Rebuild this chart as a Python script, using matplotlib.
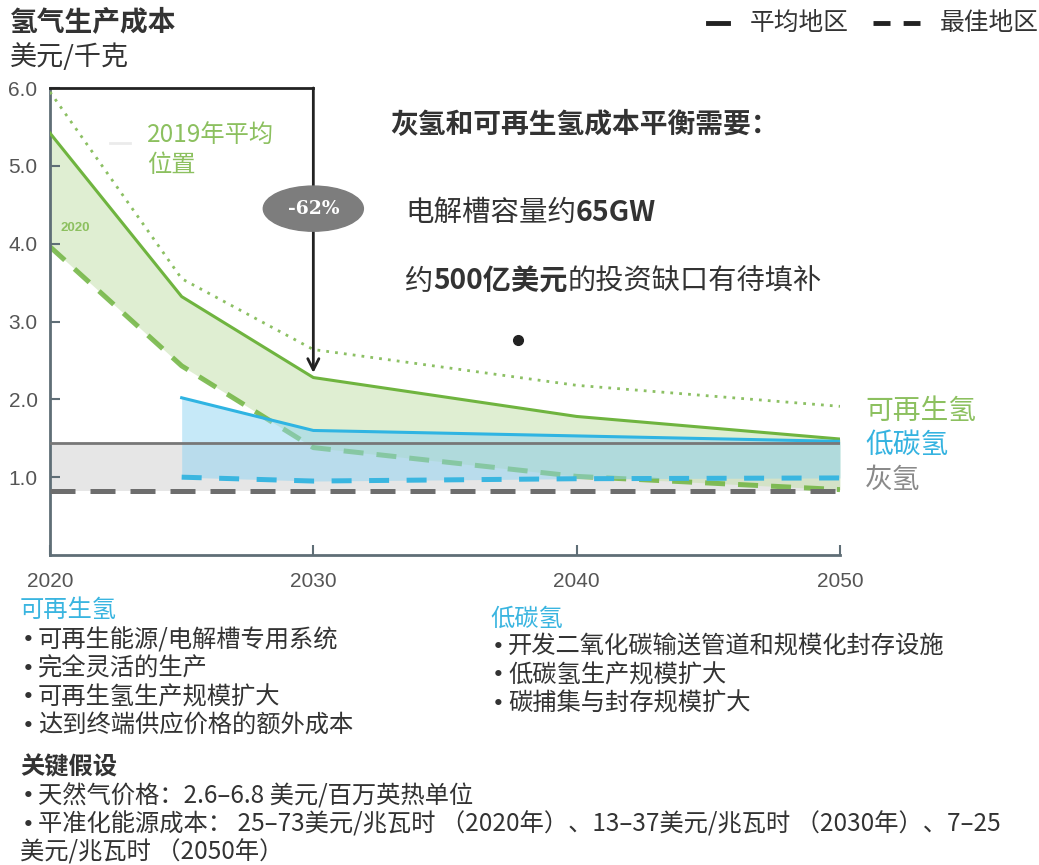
import matplotlib
matplotlib.use('Agg')
import matplotlib.pyplot as plt
from matplotlib.patches import Ellipse
from matplotlib.lines import Line2D

plt.rcParams['font.family'] = ['Noto Sans CJK SC', 'DejaVu Sans']

# cost curves, USD per kg
years = [2020, 2025, 2030, 2040, 2050]
avg_2019 = [5.95, 3.55, 2.64, 2.18, 1.91]
renew_avg = [5.42, 3.32, 2.28, 1.78, 1.49]
renew_best = [3.96, 2.43, 1.38, 1.01, 0.84]

lowc_years = [2025, 2030, 2040, 2050]
lowc_avg = [2.02, 1.60, 1.53, 1.46]
lowc_best = [1.00, 0.95, 0.98, 0.99]

grey_years = [2020, 2050]
grey_avg = [1.44, 1.44]
grey_best = [0.82, 0.82]

x_ticks = [2020, 2030, 2040, 2050]
y_ticks = [1, 2, 3, 4, 5, 6]

W, H = 1039, 865
GREEN = '#6fb43f'
GREEN_TXT = '#8cc05f'
BLUE = '#2fb4e2'
TXT = '#333333'
SPINE = '#5f6e76'
NOTE_SIZE = 17.5


def fx(px):
    return px / W


def fy(py):
    return 1 - py / H


fig = plt.figure(figsize=(W / 100, H / 100), dpi=100)
ax = fig.add_axes([fx(50), fy(555), fx(840) - fx(50), fy(88) - fy(555)])

# shaded ranges
ax.fill_between(grey_years, grey_best, grey_avg, color='#d6d6d6', alpha=0.6, lw=0, zorder=1)
ax.fill_between(years, renew_best, renew_avg, color='#c6e0ae', alpha=0.55, lw=0, zorder=1.5)
ax.plot(years, renew_best, color=GREEN, lw=3.6, ls=(0, (4, 2.6)), alpha=0.85, zorder=2)
ax.fill_between(lowc_years, lowc_best, lowc_avg, color='#8ed4f2', alpha=0.5, lw=0, zorder=3)

# lines
ax.plot(years, avg_2019, color='#8cc063', lw=2, ls=(0, (1, 2.2)), zorder=4)
ax.plot(years, renew_avg, color=GREEN, lw=2.2, zorder=4)
ax.plot(lowc_years, lowc_avg, color=BLUE, lw=2.2, zorder=4)
ax.plot(lowc_years, lowc_best, color='#3ab6e0', lw=3.6, ls=(0, (4, 3.5)), zorder=4)
ax.plot(grey_years, grey_avg, color='#777777', lw=2, zorder=4)
ax.plot(grey_years, grey_best, color='#6d6d6d', lw=3.6, ls=(0, (5, 3)), zorder=4)

ax.set_xlim(2020, 2050)
ax.set_ylim(0, 6)
ax.set_xticks(x_ticks)
ax.set_yticks(y_ticks)
ax.set_yticklabels([f'{v:.1f}' for v in y_ticks])
ax.tick_params(direction='in', length=7, width=1.5, color=SPINE,
               labelsize=15, labelcolor='#555555')
ax.tick_params(axis='x', pad=12)
ax.tick_params(axis='y', pad=9)
for lab in ax.get_xticklabels() + ax.get_yticklabels():
    lab.set_family('Liberation Sans')
for s in ['top', 'right']:
    ax.spines[s].set_visible(False)
for s in ['left', 'bottom']:
    ax.spines[s].set_color(SPINE)
    ax.spines[s].set_linewidth(2)

# -62% bracket and arrow
ax.plot([2020, 2030], [6, 6], color='#222222', lw=2, clip_on=False, zorder=5)
ax.annotate('', xy=(2030, 2.34), xytext=(2030, 6.0),
            arrowprops=dict(arrowstyle='->', color='#222222', lw=2, mutation_scale=20,
                            shrinkA=0, shrinkB=0), zorder=5)
ax.add_patch(Ellipse((2030, 4.45), 3.8, 0.58, color='#7d7d7d', zorder=6))
ax.text(2030, 4.45, '-62%', color='white', fontsize=13.5, fontweight='bold',
        family='DejaVu Serif', ha='center', va='center', zorder=7)

ax.text(2020.4, 4.2, '2020', color=GREEN_TXT, fontsize=9.5, fontweight='bold',
        ha='left', va='center', family='Liberation Sans')

# titles
fig.text(fx(10), fy(22), '氢气生产成本', fontsize=20, fontweight='bold', color=TXT, va='center')
fig.text(fx(10), fy(57), '美元/千克', fontsize=19.5, color=TXT, va='center')

# legend
fig.add_artist(Line2D([fx(708), fx(728)], [fy(23), fy(23)], color='#222222', lw=3.5))
fig.add_artist(Line2D([fx(873), fx(920)], [fy(23), fy(23)], color='#222222', lw=3.5,
                      ls=(0, (3.5, 2.7))))
fig.text(fx(750), fy(23), '平均地区', fontsize=17.8, color=TXT, va='center')
fig.text(fx(940), fy(23), '最佳地区', fontsize=17.8, color=TXT, va='center')

# annotations inside the chart
fig.add_artist(Line2D([fx(110), fx(130)], [fy(143), fy(143)], color='#ebebeb', lw=2))
fig.text(fx(147), fy(135), '2019年平均', fontsize=17.5, color=GREEN_TXT, va='center')
fig.text(fx(147), fy(165), '位置', fontsize=17.5, color=GREEN_TXT, va='center')

fig.text(fx(390), fy(125), '灰氢和可再生氢成本平衡需要：', fontsize=20,
         fontweight='bold', color=TXT, va='center')


def mixed(x, y, parts, size):
    t = fig.text(fx(x), fy(y), parts[0][0], fontsize=size, fontweight=parts[0][1],
                 color=TXT, va='center')
    for s, w in parts[1:]:
        t = ax.annotate(s, xy=(1, 0.5), xycoords=t, va='center', ha='left',
                        fontsize=size, fontweight=w, color=TXT, annotation_clip=False)
    return t


mixed(405, 213, [('电解槽容量约', 'normal'), ('65GW', 'bold')], 20.5)
mixed(405, 282, [('约', 'normal'), ('500亿美元', 'bold'), ('的投资缺口有待填补', 'normal')], 20.3)
fig.add_artist(Line2D([fx(518)], [fy(340)], marker='o', ms=7, color='#222222'))

# series labels at right
fig.text(fx(865), fy(411), '可再生氢', fontsize=20, color=GREEN_TXT, va='center')
fig.text(fx(865), fy(445), '低碳氢', fontsize=20, color='#35b3e0', va='center')
fig.text(fx(865), fy(480), '灰氢', fontsize=20, color='#8a8a8a', va='center')


def bullet(x, y, s):
    fig.text(fx(x + 2), fy(y), '•', fontsize=NOTE_SIZE - 2, color=TXT, va='center',
             family='DejaVu Sans')
    fig.text(fx(x + 18), fy(y), s, fontsize=NOTE_SIZE, color=TXT, va='center')


# notes below chart
fig.text(fx(20), fy(610), '可再生氢', fontsize=NOTE_SIZE, color='#3ab5e0', va='center')
renew_notes = ['可再生能源/电解槽专用系统', '完全灵活的生产', '可再生氢生产规模扩大',
               '达到终端供应价格的额外成本']
for i, s in enumerate(renew_notes):
    bullet(20, 640 + i * 28.7, s)

fig.text(fx(490), fy(619), '低碳氢', fontsize=NOTE_SIZE, color='#3ab5e0', va='center')
lowc_notes = ['开发二氧化碳输送管道和规模化封存设施', '低碳氢生产规模扩大', '碳捕集与封存规模扩大']
for i, s in enumerate(lowc_notes):
    bullet(490, 647 + i * 28.5, s)

fig.text(fx(20), fy(767), '关键假设', fontsize=NOTE_SIZE, fontweight='bold', color=TXT, va='center')
bullet(20, 796, '天然气价格：2.6–6.8 美元/百万英热单位')
bullet(20, 825, '平准化能源成本： 25–73美元/兆瓦时 （2020年）、13–37美元/兆瓦时 （2030年）、7–25')
fig.text(fx(20), fy(852), '美元/兆瓦时 （2050年）', fontsize=NOTE_SIZE, color=TXT, va='center')

fig.savefig('out.png', dpi=100)
